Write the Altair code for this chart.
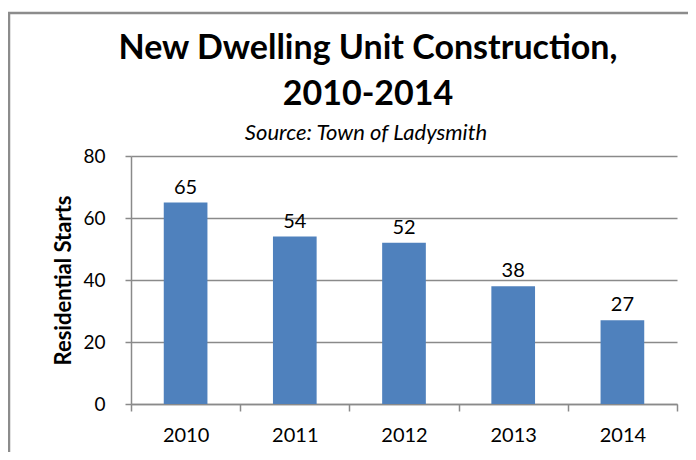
import altair as alt
import pandas as pd

years = ["2010", "2011", "2012", "2013", "2014"]
starts = [65, 54, 52, 38, 27]

title_line1 = "New Dwelling Unit Construction,"
title_line2 = "2010-2014"
subtitle = "Source: Town of Ladysmith"
y_title = "Residential Starts"
y_ticks = [0, 20, 40, 60, 80]

df = pd.DataFrame({"year": years, "starts": starts})
one = pd.DataFrame({"t1": [title_line1], "t2": [title_line2], "sub": [subtitle]})

FONT = "Lato"
GRAY = "#8a8a8a"

x_enc = alt.X(
    "year:N",
    sort=years,
    scale=alt.Scale(paddingInner=0, paddingOuter=0),
    axis=alt.Axis(
        title=None, labelAngle=0, tickBand="extent", tickSize=7,
        tickColor=GRAY, domainColor=GRAY, domainWidth=1.5, tickWidth=1.5,
        labelFont=FONT, labelFontSize=20, labelColor="#000000",
        labelPadding=14, grid=False,
    ),
)
y_enc = alt.Y(
    "starts:Q",
    scale=alt.Scale(domain=[0, 80], nice=False),
    axis=alt.Axis(
        title=y_title, values=y_ticks, tickSize=6, tickColor=GRAY,
        tickWidth=1.5, domainColor=GRAY, domainWidth=1.5,
        grid=True, gridColor=GRAY, gridWidth=1.5,
        labelFont=FONT, labelFontSize=19, labelColor="#000000", labelPadding=20,
        titleFont=FONT, titleFontSize=22, titleFontWeight="bold",
        titleColor="#000000", titlePadding=7,
    ),
)

base = alt.Chart(df)

bars = base.mark_bar(color="#4F81BD", width=alt.RelativeBandSize(0.4)).encode(
    x=x_enc, y=y_enc
)
labels = base.mark_text(
    font=FONT, fontSize=20, baseline="bottom", dy=-5, color="#000000"
).encode(x=alt.X("year:N", sort=years), y="starts:Q", text="starts:Q")

hdr = alt.Chart(one)

border = hdr.mark_rect(
    filled=False, stroke="#8c8c8c", strokeWidth=2.5
).encode(
    x=alt.value(-122), x2=alt.value(700), y=alt.value(-143), y2=alt.value(500)
)

t1 = hdr.mark_text(
    font=FONT, fontSize=34, fontWeight="bold",
    baseline="alphabetic", align="center", color="#000000"
).encode(text="t1:N", x=alt.value(237), y=alt.value(-97))
t2 = hdr.mark_text(
    font=FONT, fontSize=34, fontWeight="bold",
    baseline="alphabetic", align="center", color="#000000"
).encode(text="t2:N", x=alt.value(237), y=alt.value(-51))
t3 = hdr.mark_text(
    font=FONT, fontSize=22, fontStyle="italic",
    fontWeight="normal", baseline="alphabetic", align="center", color="#000000"
).encode(text="sub:N", x=alt.value(235), y=alt.value(-16))

chart = alt.layer(border, bars, labels, t1, t2, t3).properties(
    width=546, height=248,
    autosize=alt.AutoSizeParams(type="none"),
    padding={"left": 123, "top": 148, "right": 11, "bottom": 48},
).configure_view(stroke=None)

chart.save("out.html", embed_options={"renderer": "svg", "actions": False})
